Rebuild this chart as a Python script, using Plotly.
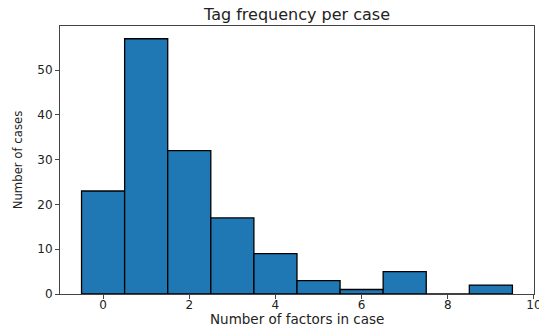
import plotly.graph_objects as go

factors = [0, 1, 2, 3, 4, 5, 6, 7, 8, 9]
counts = [23, 57, 32, 17, 9, 3, 1, 5, 0, 2]
x_ticks = [0, 2, 4, 6, 8, 10]
y_ticks = [0, 10, 20, 30, 40, 50]

fig = go.Figure()
fig.add_trace(go.Bar(
    x=factors, y=counts, width=1,
    marker=dict(color="#1f77b4", line=dict(color="black", width=1.3)),
))

axis_common = dict(
    showgrid=False, zeroline=False, showline=True, linecolor="#444", linewidth=1,
    mirror=True, ticks="outside", ticklen=4, tickcolor="#444", automargin=False,
    ticklabeloverflow="allow",
    tickfont=dict(family="DejaVu Sans", size=12, color="#222"),
)
fig.update_xaxes(range=[-1, 10.001], tickvals=x_ticks, ticklabelstandoff=-4, **axis_common)
fig.update_yaxes(range=[0, 59.85], tickvals=y_ticks, **axis_common)
fig.update_layout(
    width=539, height=327,
    margin=dict(l=60, r=5, t=26, b=33),
    plot_bgcolor="white", paper_bgcolor="white",
    title=dict(text="Tag frequency per case", x=0.5, xref="paper", xanchor="center",
               y=0.957, yanchor="middle",
               font=dict(family="DejaVu Sans", size=16, color="#222")),
    showlegend=False,
    annotations=[
        dict(text="Number of factors in case", xref="paper", yref="paper", x=0.5, y=-0.094,
             yanchor="middle", showarrow=False,
             font=dict(family="DejaVu Sans", size=13.5, color="#222")),
        dict(text="Number of cases", xref="paper", yref="paper", x=-0.09, y=0.5,
             xanchor="center", yanchor="middle", textangle=-90, showarrow=False,
             font=dict(family="Liberation Sans Narrow, DejaVu Sans Condensed, Arial Narrow",
                       size=13, color="#222")),
    ],
)
fig.write_html("out.html", config={"displayModeBar": False},
               post_script="document.body.style.margin='0';document.body.style.overflow='hidden';")
